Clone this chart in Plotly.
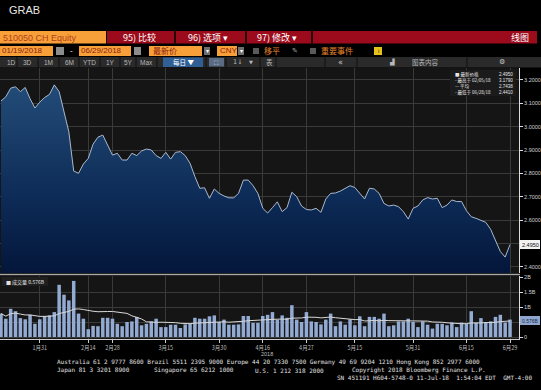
import plotly.graph_objects as go
import pandas as pd

W, H = 541, 390

# ---------------- data ----------------
holidays = ["2018-02-15", "2018-02-16", "2018-02-19", "2018-02-20", "2018-02-21",
            "2018-04-05", "2018-04-06", "2018-04-30", "2018-05-01", "2018-06-18"]
dates = [d.strftime("%Y-%m-%d") for d in pd.bdate_range("2018-01-19", "2018-06-29")
         if d.strftime("%Y-%m-%d") not in holidays]

price = [3.110, 3.128, 3.165, 3.171, 3.150, 3.168, 3.120, 3.080, 3.105, 3.125,
         3.138, 3.179, 3.150, 3.064, 2.978, 2.810, 2.800, 2.840, 2.864, 2.925,
         2.955, 2.964, 2.921, 2.878, 2.886, 2.857, 2.857, 2.886, 2.876, 2.896,
         2.904, 2.900, 2.876, 2.864, 2.890, 2.861, 2.890, 2.893, 2.876, 2.843,
         2.786, 2.736, 2.738, 2.693, 2.733, 2.714, 2.703, 2.695, 2.695, 2.714,
         2.771, 2.771, 2.747, 2.714, 2.650, 2.630, 2.653, 2.678, 2.636, 2.653,
         2.719, 2.700, 2.660, 2.645, 2.643, 2.650, 2.633, 2.690, 2.714, 2.716,
         2.724, 2.736, 2.747, 2.739, 2.715, 2.690, 2.736, 2.733, 2.714, 2.671,
         2.660, 2.664, 2.657, 2.636, 2.604, 2.650, 2.660, 2.686, 2.696, 2.690,
         2.693, 2.653, 2.664, 2.686, 2.679, 2.679, 2.640, 2.614, 2.607, 2.600,
         2.590, 2.560, 2.510, 2.465, 2.441, 2.495]

volume_b = [0.78, 0.61, 0.94, 0.86, 0.63, 0.59, 0.74, 0.44, 0.59, 0.70,
            0.72, 0.83, 1.74, 1.41, 1.22, 1.87, 0.78, 0.61, 0.26, 0.37,
            0.36, 0.64, 0.64, 0.61, 0.44, 0.36, 0.50, 0.52, 0.67, 0.39,
            0.44, 0.52, 0.61, 0.33, 0.33, 0.41, 0.41, 0.30, 0.42, 0.44,
            0.64, 0.61, 0.61, 0.69, 0.72, 0.50, 0.58, 0.41, 0.41, 0.42,
            0.70, 0.70, 0.47, 0.47, 0.70, 0.74, 0.83, 0.58, 0.72, 0.64,
            1.06, 0.58, 0.50, 0.83, 0.52, 0.50, 0.42, 0.58, 0.78, 0.36,
            0.52, 0.41, 0.59, 0.39, 0.69, 0.36, 0.67, 0.67, 0.61, 0.78,
            0.36, 0.39, 0.52, 0.52, 0.61, 0.50, 0.33, 0.52, 0.41, 0.28,
            0.44, 0.44, 0.39, 0.48, 0.33, 0.48, 0.44, 0.86, 0.48, 0.63,
            0.50, 0.52, 0.67, 0.74, 0.48, 0.58]

tick_dates = ["2018-01-31", "2018-02-14", "2018-02-28", "2018-03-15", "2018-03-30",
              "2018-04-16", "2018-04-27", "2018-05-15", "2018-05-31", "2018-06-15",
              "2018-06-29"]
tick_text = ["1月31", "2月14", "2月28", "3月15", "3月30", "4月16", "4月27",
             "5月15", "5月31", "6月15", "6月29"]

price_ticks = [2.4, 2.5, 2.6, 2.7, 2.8, 2.9, 3.0, 3.1, 3.2]
# 2.5000 is hidden behind the last-price label in the reference
price_tick_text = ["2.4000", "", "2.6000", "2.7000", "2.8000", "2.9000",
                   "3.0000", "3.1000", "3.2000"]
vol_ticks = [0, 0.5, 1, 1.5, 2]
# 0.5B is hidden behind the last-volume label in the reference
vol_tick_text = ["0", "", "1B", "1.5B", "2B"]

legend_labels = ["■ 最新价格", "- 最高于 02/05/18", "— 平均", "- 最低于 06/28/18"]
legend_values = ["2.4950", "3.1790", "2.7438", "2.4410"]
last_price_label = "2.4950"
last_volume_label = "0.576B"

vol_ma = pd.Series(volume_b).rolling(15, min_periods=1).mean().tolist()

# ---------------- helpers ----------------
def X(p):
    return p / W


def Y(p):
    return 1 - p / H


shapes = []
annotations = []
CJK = "Noto Sans CJK SC, Liberation Sans, sans-serif"
SANS = "Liberation Sans, Arial, sans-serif"
MONO = "DejaVu Sans Mono, monospace"


def rect(x0, y0, x1, y1, color):
    shapes.append(dict(type="rect", xref="paper", yref="paper",
                       x0=X(x0), x1=X(x1), y0=Y(y1), y1=Y(y0),
                       fillcolor=color, line=dict(width=0), layer="above"))


def hline(x0, x1, y, color, width=1):
    shapes.append(dict(type="line", xref="paper", yref="paper",
                       x0=X(x0), x1=X(x1), y0=Y(y), y1=Y(y),
                       line=dict(color=color, width=width), layer="above"))


def vline(x, y0, y1, color, width=1):
    shapes.append(dict(type="line", xref="paper", yref="paper",
                       x0=X(x), x1=X(x), y0=Y(y0), y1=Y(y1),
                       line=dict(color=color, width=width), layer="above"))


def text(x, y, s, size=8, color="#ffffff", anchor="left", family=CJK):
    annotations.append(dict(xref="paper", yref="paper", x=X(x), y=Y(y), text=s,
                            showarrow=False, xanchor=anchor, yanchor="middle",
                            font=dict(size=size, color=color, family=family)))


# ---------------- traces ----------------
fig = go.Figure()

fig.add_trace(go.Scatter(
    x=dates, y=price, mode="lines", fill="tozeroy",
    line=dict(color="#a9b9cf", width=1),
    fillgradient=dict(type="vertical", start=2.37, stop=3.25,
                      colorscale=[[0, "#04163a"], [0.35, "#0c2a55"],
                                  [0.7, "#1a3f6a"], [1, "#26507e"]]),
    xaxis="x", yaxis="y", showlegend=False, hoverinfo="skip"))

fig.add_trace(go.Bar(
    x=dates, y=volume_b, marker=dict(color="#93abd3", line=dict(width=0)),
    xaxis="x2", yaxis="y2", showlegend=False, hoverinfo="skip"))

fig.add_trace(go.Scatter(
    x=dates, y=vol_ma, mode="lines", line=dict(color="#d8d8d8", width=1),
    xaxis="x2", yaxis="y2", showlegend=False, hoverinfo="skip"))

# ---------------- layout ----------------
xdom = [0, 519 / W]
xr = [-0.2, 106.85]
grid = "#3a3a3a"

fig.update_layout(
    width=W, height=H,
    margin=dict(l=0, r=0, t=0, b=0, pad=0),
    paper_bgcolor="#000000", plot_bgcolor="#151515",
    bargap=0.28,
    xaxis=dict(domain=xdom, type="category", range=xr, tickvals=tick_dates,
               showticklabels=False, showgrid=True, gridcolor=grid, gridwidth=1,
               zeroline=False, ticks="", anchor="y", automargin=False),
    yaxis=dict(domain=[Y(273), Y(68)], range=[2.3729, 3.2514], side="right",
               tickvals=price_ticks, ticktext=price_tick_text,
               tickfont=dict(size=5.5, color="#cfcfcf", family=SANS),
               ticks="outside", ticklen=3, tickcolor="#dddddd",
               showline=True, linecolor="#dddddd", linewidth=1,
               showgrid=True, gridcolor=grid, zeroline=False, anchor="x",
               automargin=False),
    xaxis2=dict(domain=xdom, type="category", range=xr, tickvals=tick_dates,
                ticktext=tick_text, tickfont=dict(size=5.5, color="#bdbdbd", family=CJK),
                ticks="outside", ticklen=3, tickcolor="#cccccc",
                showline=True, linecolor="#cccccc", linewidth=1,
                showgrid=True, gridcolor=grid, zeroline=False, anchor="y2",
                tickangle=0, automargin=False),
    yaxis2=dict(domain=[Y(339), Y(276)], range=[-0.0667, 2.0333], side="right",
                tickvals=vol_ticks, ticktext=vol_tick_text,
                tickfont=dict(size=5.5, color="#cfcfcf", family=SANS),
                ticks="outside", ticklen=3, tickcolor="#dddddd",
                showline=True, linecolor="#dddddd", linewidth=1,
                showgrid=True, gridcolor=grid, zeroline=False, anchor="x2",
                automargin=False),
)

# ---------------- header ----------------
text(7, 10, "GRAB", size=11, color="#e6e6e6", family=SANS)

# row 1
rect(0, 31, 106, 43.5, "#f7a03a")
text(1, 37.5, "510050 CH Equity", size=9, color="#b2411a", family=SANS)
rect(107, 31, 537, 43.5, "#9b0b1b")
for sx in (175, 246, 312):
    vline(sx, 31, 43.5, "#000000", 1.5)
text(121, 37.5, "95) 比较", size=9)
text(186, 37.5, "96) 选项 ▾", size=9)
text(255, 37.5, "97) 修改 ▾", size=9)
text(531, 37.5, "线图", size=9, anchor="right")

# row 2
rect(0, 46, 53, 56, "#f7a03a")
text(0, 51, "01/19/2018", size=8, color="#8a1d10", family=SANS)
rect(56, 47, 64, 55, "#8c8c8c")
text(71, 51, "-", size=8, color="#ffffff", family=SANS, anchor="center")
rect(79, 46, 131, 56, "#f7a03a")
text(79, 51, "06/29/2018", size=8, color="#8a1d10", family=SANS)
rect(134, 47, 141, 55, "#8c8c8c")
rect(149, 46, 202, 56, "#f7a03a")
text(151, 51, "最新价", size=8, color="#8a1d10")
rect(204, 47, 210, 55, "#6e6e6e")
text(207, 51, "▾", size=6, color="#ffffff", anchor="center")
rect(217, 46, 237, 56, "#f7a03a")
text(218, 51, "CNY", size=8, color="#8a1d10", family=SANS)
rect(238, 47, 244, 55, "#6e6e6e")
text(241, 51, "▾", size=6, color="#ffffff", anchor="center")
rect(253, 48, 259, 54, "#5a5a5a")
text(262, 51, "移平", size=8, color="#e8852c")
text(295, 51, "✎", size=7, color="#aaaaaa", anchor="center", family="DejaVu Sans")
rect(310, 48, 316, 54, "#5a5a5a")
text(319, 51, "重要事件", size=8, color="#e8852c")
rect(374, 47, 382, 55, "#e6c21a")
text(378, 51, "i", size=6, color="#333333", anchor="center", family=SANS)

# row 3 (button bar)
rect(0, 57, 541, 67.5, "#2a2a2a")
for sx in (17, 38, 59, 79, 100, 120, 136, 157, 206, 226, 260, 276, 325, 357, 467):
    vline(sx, 57, 67.5, "#111111", 1)
for lx, lab in [(11, "1D"), (27, "3D"), (48, "1M"), (69, "6M"), (89, "YTD"),
                (110, "1Y"), (128, "5Y"), (146, "Max")]:
    text(lx, 62.3, lab, size=6.5, color="#b8b8b8", family=SANS, anchor="center")
rect(163, 57.5, 203, 67, "#2f5f95")
text(183, 62.3, "每日 ▼", size=6.5, color="#ffffff", anchor="center")
rect(209, 58, 224, 66.5, "#5a6c84")
text(216.5, 62.3, "⛶", size=6, color="#dde6f0", anchor="center", family="DejaVu Sans")
text(238, 62.3, "1↓", size=6.5, color="#b8b8b8", anchor="center", family="DejaVu Sans")
text(251, 62.3, "▼", size=5, color="#b8b8b8", anchor="center", family="DejaVu Sans")
text(269, 62.3, "表", size=6.5, color="#b8b8b8", anchor="center")
text(340, 62.3, "«", size=8, color="#c8c8c8", anchor="center", family="DejaVu Sans")
text(392, 62.3, "▟", size=6, color="#b8b8b8", anchor="center", family="DejaVu Sans")
text(410, 62.3, "图表内容", size=6.5, color="#b8b8b8")
text(502, 62.3, "⚙", size=7, color="#c8c8c8", anchor="center", family="DejaVu Sans")

# ---------------- chart overlays ----------------
rect(450, 70, 516, 96, "#1b1b1b")
for i, (lab, val) in enumerate(zip(legend_labels, legend_values)):
    yy = 74.5 + i * 6
    text(453, yy, lab, size=4.5, color="#e8e8e8")
    text(515, yy, val, size=4.5, color="#e8e8e8", anchor="right", family=SANS)

rect(520, 240, 540, 249, "#f2f2f2")
text(530, 244.5, last_price_label, size=5.5, color="#111111", family=SANS, anchor="center")

hline(0, 520, 274.5, "#a8a8a8", 1.5)

rect(2, 277, 48, 286, "#1f1f1f")
text(4, 281.5, "■ 成交量 0.576B", size=5, color="#e0e0e0")

rect(520, 316, 540, 325, "#8ea6cf")
text(530, 320.5, last_volume_label, size=5, color="#1a2a44", family=SANS, anchor="center")

text(267, 354, "2018", size=5.5, color="#bdbdbd", family=SANS, anchor="center")

# ---------------- footer ----------------
fcol = "#e0e0e0"
text(55, 362, "Australia 61 2 9777 8600 Brazil 5511 2395 9000 Europe 44 20 7330 7500 "
     "Germany 49 69 9204 1210 Hong Kong 852 2977 6000", size=6, color=fcol, family=MONO)
text(55, 370, "Japan 81 3 3201 8900", size=6, color=fcol, family=MONO)
text(152, 370, "Singapore 65 6212 1000", size=6, color=fcol, family=MONO)
text(253, 370, "U.S. 1 212 318 2000", size=6, color=fcol, family=MONO)
text(350, 370, "Copyright 2018 Bloomberg Finance L.P.", size=6, color=fcol, family=MONO)
text(534, 377, "SN 451191 H604-5748-0 11-Jul-18  1:54:04 EDT  GMT-4:00", size=6,
     color=fcol, family=MONO, anchor="right")

fig.update_layout(shapes=shapes, annotations=annotations)
fig.write_html("out.html", config={"displayModeBar": False},
               post_script="document.body.style.margin='0';"
                           "document.body.style.background='#000';")
